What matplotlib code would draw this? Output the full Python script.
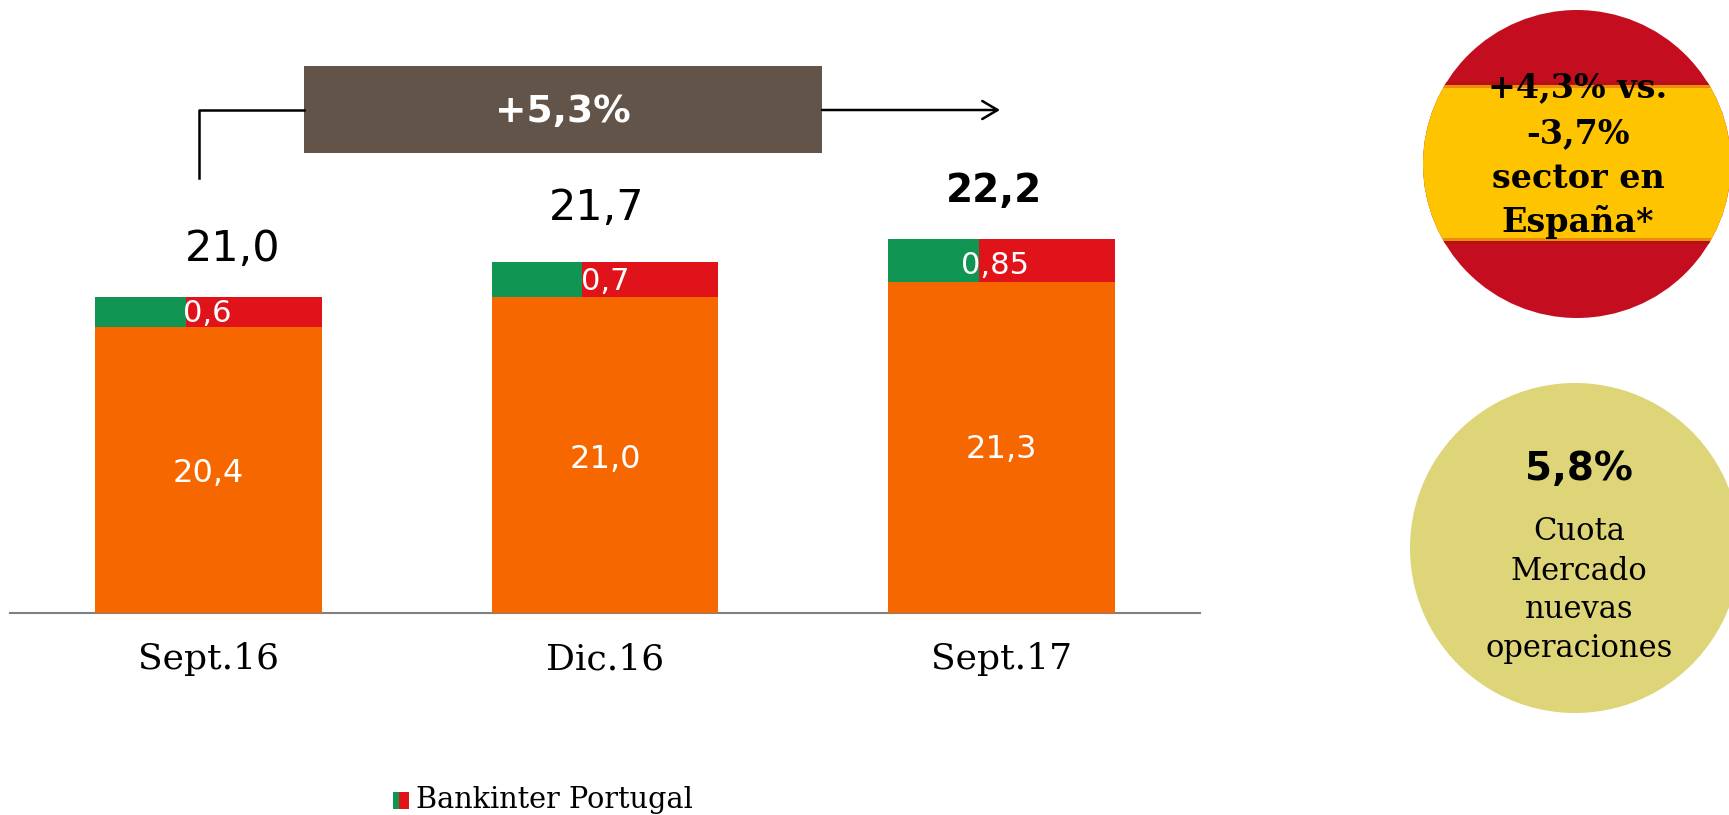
import matplotlib
matplotlib.use('Agg')
import matplotlib.pyplot as plt
from matplotlib.patches import Circle, Rectangle

categories = ['Sept.16', 'Dic.16', 'Sept.17']
spain = [20.4, 21.0, 21.3]
portugal = [0.6, 0.7, 0.85]
spain_labels = ['20,4', '21,0', '21,3']
portugal_labels = ['0,6', '0,7', '0,85']
totals = ['21,0', '21,7', '22,2']
growth = '+5,3%'
legend_label = 'Bankinter Portugal'
spain_note = ['+4,3% vs.', '-3,7%', 'sector en', 'España*']
share_value = '5,8%'
share_note = ['Cuota', 'Mercado', 'nuevas', 'operaciones']

ORANGE = '#F76700'
GREEN = '#109553'
RED = '#E0131A'
W, H = 1729, 815
SERIF = 'DejaVu Serif'
SANS = 'DejaVu Sans'

fig = plt.figure(figsize=(W / 100, H / 100), dpi=100)

# %% Bars
ax = fig.add_axes([10 / W, 1 - 613 / H, 1190 / W, 613 / H])
x = [0, 1, 2]
width = 0.572
green_part = 0.4
ax.bar(x, spain, width, color=ORANGE, zorder=3)
for xi, base, top in zip(x, spain, portugal):
    left = xi - width / 2
    ax.bar(left, top, width * green_part, bottom=base, align='edge', color=GREEN)
    ax.bar(left + width * green_part, top, width * (1 - green_part), bottom=base,
           align='edge', color=RED)
ax.set_xlim(-0.5, 2.5)
ax.set_ylim(14.7, 26.91)
ax.set_yticks([])
ax.set_xticks(x, categories, family=SERIF, fontsize=26)
ax.tick_params(axis='x', length=0, pad=21)
for side in ['top', 'left', 'right']:
    ax.spines[side].set_visible(False)
ax.spines['bottom'].set_color('#808080')
ax.spines['bottom'].set_linewidth(1.5)
ax.patch.set_alpha(0)

# %% Overlay in pixel coordinates
ov = fig.add_axes([0, 0, 1, 1], zorder=5)
ov.set_xlim(0, W)
ov.set_ylim(H, 0)
ov.axis('off')

label_x = [208, 605, 1001]
label_y = [473, 459, 449]
for px, py, s in zip(label_x, label_y, spain_labels):
    ov.text(px, py, s, color='white', fontsize=23, family=SANS, ha='center', va='center')
for px, py, s in zip([207, 605, 995], [313, 281, 265], portugal_labels):
    ov.text(px, py, s, color='white', fontsize=22, family=SANS, ha='center', va='center')
for i, (px, py, s) in enumerate(zip([233, 597, 994], [249, 208, 191], totals)):
    ov.text(px, py, s, color='black', family=SANS, ha='center', va='center',
            fontsize=28 if i == 2 else 31, fontweight='bold' if i == 2 else 'normal')

# growth box and arrow
ov.plot([199, 199, 304], [178, 110, 110], color='black', lw=1.8)
ov.annotate('', xy=(1000, 110), xytext=(822, 110),
            arrowprops=dict(arrowstyle='->,head_length=1.1,head_width=0.65', color='black',
                            lw=1.8, shrinkA=0, shrinkB=0))
ov.add_patch(Rectangle((304, 66), 518, 87, color='#63544A', lw=0))
ov.text(563, 112, growth, color='white', fontsize=27, fontweight='bold', family=SANS,
        ha='center', va='center')

# Spain circle
spain_c = Circle((1577, 164), 154, color='#C40D1E', lw=0)
ov.add_patch(spain_c)
band = Rectangle((1400, 85), 329, 155, color='#FFC400', lw=0)
ov.add_patch(band)
band.set_clip_path(spain_c)
for py, c in [(83, '#B3120F'), (86, '#EE8A10'), (239, '#EE8A10'), (242, '#B3120F')]:
    edge = Rectangle((1400, py - 1.5), 329, 3, color=c, lw=0)
    ov.add_patch(edge)
    edge.set_clip_path(spain_c)
for py, s in zip([88, 134, 179, 222], spain_note):
    ov.text(1578, py, s, color='black', fontsize=24, fontweight='bold', family=SERIF,
            ha='center', va='center')

# market share circle
ov.add_patch(Circle((1575, 548), 165, color='#DED478', lw=0))
ov.text(1579, 469, share_value, color='black', fontsize=28, fontweight='bold', family=SANS,
        ha='center', va='center')
for py, s in zip([532, 572, 610, 648], share_note):
    ov.text(1579, py, s, color='black', fontsize=22, family=SERIF, ha='center', va='center')

# legend
ov.add_patch(Rectangle((393, 792), 6, 17, color=GREEN, lw=0))
ov.add_patch(Rectangle((399, 792), 10, 17, color=RED, lw=0))
ov.text(416, 800, legend_label, color='black', fontsize=20.7, family=SERIF, ha='left', va='center')

fig.savefig('out.png', dpi=100)
